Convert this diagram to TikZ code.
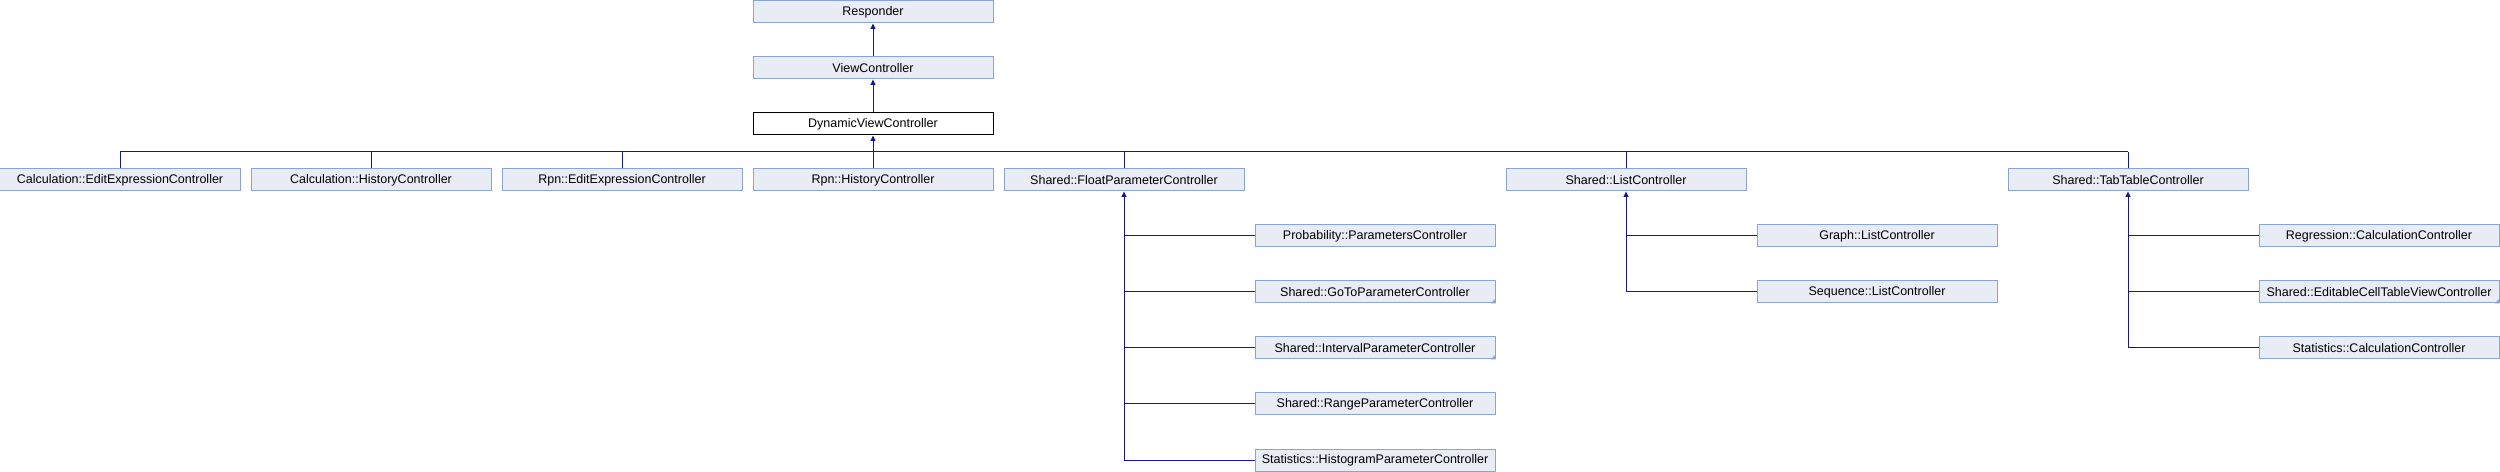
\documentclass[tikz,border=0pt]{standalone}
\usepackage{fontspec}
\setmainfont{Liberation Sans}
\usetikzlibrary{positioning,arrows.meta}
\definecolor{boxfill}{RGB}{232,236,245}
\definecolor{boxline}{RGB}{140,162,208}
\definecolor{linkclr}{RGB}{24,24,140}
\tikzset{
  cls/.style={rectangle,draw=boxline,fill=boxfill,line width=0.4pt,
              minimum width=96pt,minimum height=8.8pt,inner sep=0pt,
              font=\fontsize{5}{6}\selectfont},
  cur/.style={cls,draw=black,fill=white},
  link/.style={draw=linkclr,line width=0.4pt},
  isa/.style={link,{Triangle[length=2.2pt,width=2pt]}-},
}
\begin{document}
\begin{tikzpicture}[x=0.4pt, y=-0.4pt]
\useasboundingbox (0,0) rectangle (2500,472);

% Base chain
\node[cls] (resp) at (873,12)  {Responder};
\node[cls] (vc)   at (873,68)  {ViewController};
\node[cur] (dvc)  at (873,124) {DynamicViewController};
\draw[isa] (resp.south) -- (vc.north);
\draw[isa] (vc.south) -- (dvc.north);

% Direct subclasses
\node[cls] (calcedit) at (120,180)  {Calculation::EditExpressionController};
\node[cls] (calchist) at (371,180)  {Calculation::HistoryController};
\node[cls] (rpnedit)  at (622,180)  {Rpn::EditExpressionController};
\node[cls] (rpnhist)  at (873,180)  {Rpn::HistoryController};
\node[cls] (floatp)   at (1124,180) {Shared::FloatParameterController};
\node[cls] (listc)    at (1626,180) {Shared::ListController};
\node[cls] (tabtab)   at (2128,180) {Shared::TabTableController};

\coordinate (bus) at (0,152);
\draw[isa] (dvc.south) -- (dvc.south |- bus);
\draw[link] (calcedit.north |- bus) -- (tabtab.north |- bus);
\foreach \c in {calcedit,calchist,rpnedit,rpnhist,floatp,listc,tabtab}
  \draw[link] (\c.north) -- (\c.north |- bus);

% Float parameter family
\node[cls] (probparam)  at (1375,236) {Probability::ParametersController};
\node[cls] (gotoparam)  at (1375,292) {Shared::GoToParameterController};
\node[cls] (intparam)   at (1375,348) {Shared::IntervalParameterController};
\node[cls] (rangeparam) at (1375,404) {Shared::RangeParameterController};
\node[cls] (histparam)  at (1375,460) {Statistics::HistogramParameterController};
\draw[isa] (floatp.south) -- (floatp.south |- histparam.west);
\foreach \c in {probparam,gotoparam,intparam,rangeparam,histparam}
  \draw[link] (\c.west) -- (floatp.south |- \c.west);

% List family
\node[cls] (graphlist) at (1877,236) {Graph::ListController};
\node[cls] (seqlist)   at (1877,292) {Sequence::ListController};
\draw[isa] (listc.south) -- (listc.south |- seqlist.west);
\foreach \c in {graphlist,seqlist}
  \draw[link] (\c.west) -- (listc.south |- \c.west);

% Tab table family
\node[cls] (regcalc)  at (2379,236) {Regression::CalculationController};
\node[cls] (editcell) at (2379,292) {Shared::EditableCellTableViewController};
\node[cls] (statcalc) at (2379,348) {Statistics::CalculationController};
\draw[isa] (tabtab.south) -- (tabtab.south |- statcalc.west);
\foreach \c in {regcalc,editcell,statcalc}
  \draw[link] (\c.west) -- (tabtab.south |- \c.west);

% corner marks (more subclasses)
\foreach \c in {gotoparam,intparam,editcell}
  \fill[boxline] (\c.south east) -- ++(-5,0) -- ++(5,-5) -- cycle;
\end{tikzpicture}
\end{document}
